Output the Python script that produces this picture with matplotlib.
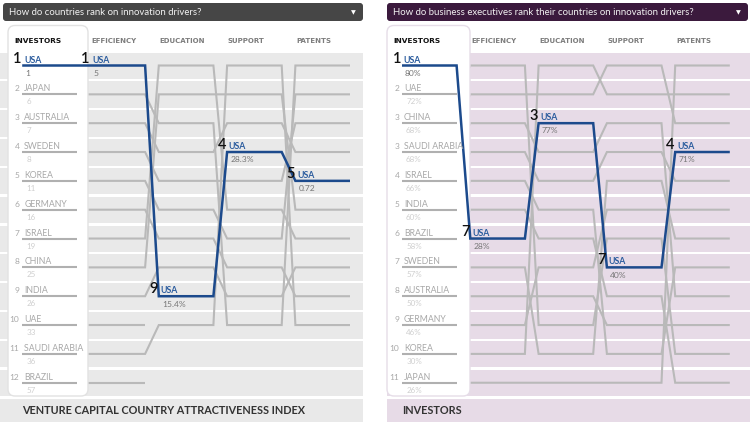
import matplotlib
matplotlib.use('Agg')
import matplotlib.pyplot as plt
from matplotlib.patches import FancyBboxPatch, Rectangle
from matplotlib.transforms import Affine2D

plt.rcParams['font.family'] = ['Lato', 'DejaVu Sans']

# ---------------- data ----------------
columns = ['INVESTORS', 'EFFICIENCY', 'EDUCATION', 'SUPPORT', 'PATENTS']

left_title = 'How do countries rank on innovation drivers?'
left_footer = 'VENTURE CAPITAL COUNTRY ATTRACTIVENESS INDEX'
left_countries = ['USA', 'JAPAN', 'AUSTRALIA', 'SWEDEN', 'KOREA', 'GERMANY',
                  'ISRAEL', 'CHINA', 'INDIA', 'UAE', 'SAUDI ARABIA', 'BRAZIL']
left_inv_label = [1, 2, 3, 4, 5, 6, 7, 8, 9, 10, 11, 12]
left_inv_value = ['1', '6', '7', '8', '11', '16', '19', '25', '26', '33', '36', '57']
left_eff = [1, 2, 3, 4, 5, 6, 7, 8, 9, 10, 11, 12]
left_edu = [9, 3, 4, 5, 6, 7, 1, 2, 8, None, 10, None]
left_sup = [4, 10, 3, 5, 7, 8, 6, 2, 9, None, 1, None]
left_pat = [5, 1, 4, 3, 2, 9, 7, 6, 8, None, 10, None]
left_usa_rank = [1, 1, 9, 4, 5]
left_usa_value = ['1', '5', '15.4%', '28.3%', '0.72']

right_title = 'How do business executives rank their countries on innovation drivers?'
right_footer = 'INVESTORS'
right_countries = ['USA', 'UAE', 'CHINA', 'SAUDI ARABIA', 'ISRAEL', 'INDIA',
                   'BRAZIL', 'SWEDEN', 'AUSTRALIA', 'GERMANY', 'KOREA', 'JAPAN']
right_inv_label = [1, 2, 3, 3, 4, 5, 6, 7, 8, 9, 10, 11]
right_inv_value = ['80%', '72%', '68%', '68%', '66%', '60%', '58%', '57%',
                   '50%', '46%', '30%', '26%']
right_eff = [7, 1, 2, 3, 4, 5, 6, 8, 9, 10, 11, 12]
right_edu = [3, 10, 2, 4, 5, 6, 7, 11, 9, 8, 1, 12]
right_sup = [8, 7, 1, 3, 4, 11, 9, 5, 10, 6, 2, 12]
right_pat = [4, 11, 3, 9, 5, 8, 12, 7, 10, 6, 2, 1]
right_usa_rank = [1, 7, 3, 7, 4]
right_usa_value = ['80%', '28%', '77%', '40%', '71%']

# ---------------- style ----------------
W, H = 750, 422
fig = plt.figure(figsize=(W / 100, H / 100), dpi=100)
fig.patch.set_facecolor('white')
px = Affine2D().scale(1 / W, -1 / H).translate(0, 1) + fig.transFigure

STEP_X = 68.3
ROW0, STEP_Y = 65.5, 28.84
HW = 27.3 / STEP_X
GRAY = '#b9b9b9'
BLUE = '#1c4a8c'
USA_BLUE = '#2b5c9e'


def make_panel(x_left, x_right, x_col0, title, footer, header_col, band_col,
               card_edge, countries, inv_label, inv_value, ranks, usa_rank,
               usa_value, rank_right, card_x, card_w):
    ax = fig.add_axes([x_left / W, 0, (x_right - x_left) / W, 1])
    ax.set_axis_off()
    ax.set_xlim((x_left - x_col0) / STEP_X, (x_right - x_col0) / STEP_X)
    ax.set_ylim(1 + (H - ROW0) / STEP_Y, 1 - ROW0 / STEP_Y)
    is_left = x_left == 0
    bx0 = 0 if is_left else card_x
    bx1 = 363 if is_left else 750

    # header bar
    hb0 = 3 if is_left else card_x
    hb1 = 363 if is_left else 748
    ax.add_patch(FancyBboxPatch((hb0, 3), hb1 - hb0, 18,
                                boxstyle='round,pad=0,rounding_size=3',
                                transform=px, fc=header_col, ec='none', zorder=1))
    ax.text(hb0 + 6, 12.5, title, transform=px, color='#f2f2f2', fontsize=6.9,
            va='center', ha='left', zorder=8)
    ax.text(hb1 - 10, 12.5, '\u25BC', transform=px,
            color='white', fontsize=4.5, va='center', ha='center',
            family='DejaVu Sans', zorder=8)

    # row bands
    for r in range(1, len(countries) + 1):
        ax.add_patch(Rectangle(((bx0 - x_col0) / STEP_X, r - 0.45),
                               (bx1 - bx0) / STEP_X, 0.92, fc=band_col,
                               ec='none', zorder=0))
    # footer
    ax.add_patch(Rectangle((bx0, 398.5), bx1 - bx0, 24, transform=px,
                           fc=band_col, ec='none', zorder=1))
    ax.text((22 if is_left else card_x + 15), 411, footer, transform=px,
            fontsize=7.8, fontweight='bold', color='#333333', va='center',
            ha='left', zorder=8)

    # gray lines
    paths = []
    for i in range(len(countries)):
        xs, ys = [], []
        for c in range(len(columns)):
            p = ranks[c][i]
            if p is None:
                break
            xs += [c - HW, c + HW]
            ys += [p, p]
        paths.append((xs, ys))
    for i, (xs, ys) in enumerate(paths):
        if countries[i] != 'USA':
            ax.plot(xs, ys, color=GRAY, lw=1.5, zorder=2,
                    solid_joinstyle='miter', solid_capstyle='butt')

    # card
    ax.add_patch(FancyBboxPatch((card_x, 25.5), card_w, 370.5,
                                boxstyle='round,pad=0,rounding_size=7',
                                transform=px, fc='white', ec=card_edge,
                                lw=1.0, zorder=3))

    # investors column
    for i in range(len(countries)):
        p = ranks[0][i]
        if countries[i] != 'USA':
            ax.plot([-HW, HW], [p, p], color='#b0b0b0', lw=1.5, zorder=4,
                    solid_capstyle='butt')
            ax.text(rank_right, p - 0.19, str(inv_label[i]), fontsize=6.0,
                    color='#a8a8a8', ha='right', va='center', zorder=7)
            ax.text(-HW + 0.03, p - 0.19, countries[i], fontsize=6.3,
                    color='#a8a8a8', ha='left', va='center', zorder=7)
            ax.text(-HW + 0.06, p + 0.26, inv_value[i], fontsize=5.8,
                    color='#cfcfcf', ha='left', va='center', zorder=7)

    # USA highlighted line
    ui = countries.index('USA')
    xs, ys = paths[ui]
    ax.plot(xs, ys, color=BLUE, lw=1.8, zorder=6, solid_joinstyle='miter',
            solid_capstyle='butt')
    for c in range(len(columns)):
        p = ranks[c][ui]
        x0 = c - HW
        ax.text(x0 - 0.01, p - 0.24, str(usa_rank[c]), fontsize=10.5,
                fontweight='semibold', color='#111111', ha='right',
                va='center', zorder=7)
        ax.text(x0 + 0.025, p - 0.19, 'USA', fontsize=6.3, fontweight='bold',
                color=USA_BLUE, ha='left', va='center', zorder=7)
        ax.text(x0 + 0.045, p + 0.27, usa_value[c], fontsize=6.1,
                color='#777777', ha='left', va='center', zorder=7)

    # column headers
    for c, name in enumerate(columns):
        if c == 0:
            ax.text(-HW - 0.12, 0.15, name, fontsize=5.3, fontweight='bold',
                    family='DejaVu Sans', color='#111111', ha='left',
                    va='center', zorder=7)
        else:
            ax.text(c - HW + 0.01, 0.15, name, fontsize=5.0, fontweight='bold',
                    family='DejaVu Sans', color='#7d7d7d', ha='left',
                    va='center', zorder=7)
    return ax


make_panel(0, 375, 49.5, left_title, left_footer, '#464646', '#e9e9e9',
           '#e2e2e2', left_countries, left_inv_label, left_inv_value,
           [left_inv_label, left_eff, left_edu, left_sup, left_pat],
           left_usa_rank, left_usa_value, (19.5 - 49.5) / STEP_X, 8, 80)

make_panel(375, 750, 429.3, right_title, right_footer, '#3b1a3d', '#e7dbe7',
           '#e6dde8', right_countries, right_inv_label, right_inv_value,
           [list(range(1, 13)), right_eff, right_edu, right_sup, right_pat],
           right_usa_rank, right_usa_value, (399.5 - 429.3) / STEP_X, 387, 83)

fig.savefig('out.png', dpi=100, facecolor='white')
